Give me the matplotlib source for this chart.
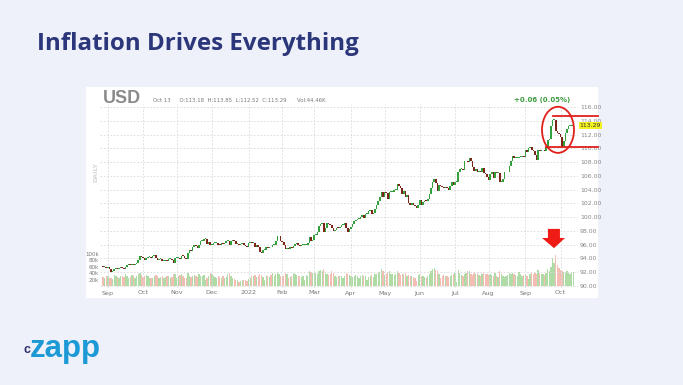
import numpy as np
import matplotlib
matplotlib.use('Agg')
import matplotlib.pyplot as plt
from matplotlib.patches import Ellipse, Polygon, Rectangle

# DXY daily closes (one list per month)
close_aug21 = [92.7, 92.7, 92.6]
close_sep21 = [92.8, 92.4, 92.1, 92.2, 92.5, 92.6, 92.5, 92.6, 92.7, 92.6, 92.5,
               92.8, 93.0, 93.1, 93.0, 93.2, 93.0, 93.2, 93.3, 93.8, 94.3, 94.2]
close_oct21 = [94.0, 93.8, 94.0, 94.2, 94.2, 94.1, 94.3, 94.5, 94.0, 93.8, 93.9,
               93.9, 93.6, 93.6, 93.8, 93.6, 93.9, 93.9, 93.8, 93.4, 94.1]
close_nov21 = [94.1, 94.1, 93.9, 94.4, 94.3, 94.0, 93.9, 94.8, 95.2, 95.1, 95.6,
               96.0, 95.8, 95.5, 96.0, 96.5, 96.5, 96.8, 96.8, 96.1, 96.4, 96.0]
close_dec21 = [96.0, 96.2, 96.2, 96.3, 96.0, 95.9, 96.2, 96.1, 96.3, 96.6, 96.6, 96.0,
               96.6, 96.6, 96.5, 96.1, 96.1, 96.0, 96.1, 96.2, 96.0, 95.8, 95.7]
close_jan22 = [96.2, 96.3, 96.2, 96.3, 95.7, 95.9, 95.6, 95.0, 94.8, 95.2, 95.3,
               95.7, 95.5, 95.7, 95.6, 95.9, 96.0, 96.5, 97.2, 97.3, 96.5]
close_feb22 = [96.4, 96.0, 95.4, 95.5, 95.4, 95.6, 95.5, 95.8, 96.1, 96.3,
               96.0, 95.8, 95.9, 96.0, 96.0, 96.0, 96.2, 97.1, 96.6, 96.7]
close_mar22 = [97.4, 97.4, 97.8, 98.7, 99.0, 99.1, 97.9, 98.5, 99.1, 99.0, 98.8, 98.4,
               98.0, 98.2, 98.5, 98.4, 98.6, 98.8, 98.8, 99.1, 98.4, 97.8, 98.3]
close_apr22 = [98.6, 99.0, 99.5, 99.6, 99.8, 99.8, 100.0, 100.3, 99.9, 100.5, 100.5,
               100.9, 101.0, 100.4, 100.6, 101.2, 101.8, 102.3, 103.0, 103.6, 103.0]
close_may22 = [103.7, 103.5, 102.6, 103.7, 103.7, 103.7, 103.9, 103.9, 104.8, 104.6, 104.2,
               103.4, 103.8, 102.9, 103.2, 102.1, 101.8, 102.1, 101.8, 101.7, 101.4, 101.8]
close_jun22 = [102.5, 101.8, 102.2, 102.4, 102.3, 102.6, 103.3, 104.2, 105.1, 105.5, 105.0,
               103.8, 104.7, 104.5, 104.4, 104.2, 104.4, 104.2, 103.9, 104.5, 105.1, 104.7]
close_jul22 = [105.1, 105.1, 106.5, 107.0, 107.0, 106.9, 108.1, 108.1, 108.0, 108.6, 108.1,
               107.3, 106.7, 107.0, 106.6, 106.7, 106.5, 107.2, 106.4, 106.3, 105.9]
close_aug22 = [105.4, 106.3, 106.5, 105.7, 106.6, 106.4, 106.4, 105.1, 105.1, 105.6, 106.5, 106.5,
               106.6, 107.5, 108.2, 108.9, 108.6, 108.6, 108.6, 108.8, 108.8, 108.8, 108.7]
close_sep22 = [109.7, 109.5, 110.0, 110.2, 109.7, 109.6, 109.0, 108.3, 109.8, 109.6, 109.7,
               109.8, 109.6, 110.2, 111.2, 111.3, 113.2, 114.1, 114.1, 112.6, 112.2, 112.1]
close_oct22 = [111.6, 110.2, 111.1, 112.2, 112.8, 113.2, 113.2, 113.2, 113.29]
first_open = 92.8

# daily volume in thousands
vol_aug21 = [28, 24, 32]
vol_sep21 = [30, 26, 24, 22, 34, 30, 28, 26, 32, 30, 27, 36, 30, 26, 28, 34, 32, 26, 30, 36, 42, 34]
vol_oct21 = [28, 30, 34, 30, 26, 24, 26, 32, 34, 30, 26, 28, 30, 26, 28, 32, 30, 24, 28, 36, 38]
vol_nov21 = [26, 30, 34, 36, 30, 24, 26, 40, 32, 28, 30, 34, 30, 28, 36, 32, 30, 34, 20, 26, 32, 42]
vol_dec21 = [36, 30, 28, 26, 30, 28, 26, 30, 24, 28, 36, 40, 32, 24, 22, 20, 18, 12, 16, 20, 18, 20, 16]
vol_jan22 = [22, 26, 32, 30, 34, 28, 30, 38, 34, 28, 18, 32, 30, 28, 34, 40, 32, 38, 44, 36, 30]
vol_feb22 = [30, 32, 40, 38, 26, 28, 30, 40, 36, 34, 32, 30, 28, 32, 20, 34, 30, 48, 44, 42]
vol_mar22 = [44, 40, 38, 46, 50, 48, 52, 42, 36, 34, 38, 46, 40, 32, 28, 30, 32, 30, 26, 32, 40, 38, 34]
vol_apr22 = [30, 28, 32, 34, 30, 26, 30, 34, 32, 30, 18, 28, 30, 34, 28, 36, 38, 40, 44, 52, 46]
vol_may22 = [34, 36, 44, 46, 38, 36, 34, 36, 48, 40, 34, 38, 36, 42, 30, 34, 32, 30, 28, 24, 16, 34]
vol_jun22 = [36, 32, 30, 28, 26, 30, 38, 46, 52, 56, 50, 48, 36, 24, 30, 34, 32, 30, 28, 32, 34, 36]
vol_jul22 = [40, 14, 50, 40, 34, 30, 38, 42, 46, 48, 36, 34, 40, 36, 42, 34, 32, 38, 40, 38, 36]
vol_aug22 = [34, 38, 34, 32, 40, 30, 28, 46, 36, 30, 28, 32, 34, 40, 38, 42, 36, 34, 32, 44, 36, 32, 34]
vol_sep22 = [36, 32, 22, 38, 40, 36, 42, 38, 50, 40, 36, 38, 34, 42, 54, 48, 60, 87, 72, 97, 66, 56]
vol_oct22 = [50, 48, 44, 42, 46, 40, 38, 42, 44]

month_labels = ['Sep', 'Oct', 'Nov', 'Dec', '2022', 'Feb', 'Mar', 'Apr',
                'May', 'Jun', 'Jul', 'Aug', 'Sep', 'Oct']
price_ticks = [90, 92, 94, 96, 98, 100, 102, 104, 106, 108, 110, 112, 114, 116]
vol_ticks = [20, 40, 60, 80, 100]
vol_tick_labels = ['20k', '40k', '60k', '80k', '100k']
last_price = 113.29
resistance = 114.7
support = 110.2

months_close = [close_aug21, close_sep21, close_oct21, close_nov21, close_dec21, close_jan22,
                close_feb22, close_mar22, close_apr22, close_may22, close_jun22, close_jul22,
                close_aug22, close_sep22, close_oct22]
months_vol = [vol_aug21, vol_sep21, vol_oct21, vol_nov21, vol_dec21, vol_jan22, vol_feb22,
              vol_mar22, vol_apr22, vol_may22, vol_jun22, vol_jul22, vol_aug22, vol_sep22, vol_oct22]

closes = np.concatenate([np.array(m, float) for m in months_close])
opens = np.concatenate([[first_open], closes[:-1]])
volumes = np.concatenate([np.array(m, float) for m in months_vol])
idx = np.arange(len(closes))
month_starts = np.cumsum([len(m) for m in months_close])[:-1]

up = closes >= opens
candle_colors = np.where(up, '#33a03c', '#7d2418')
vol_colors = np.where(up, '#aedba6', '#f4bdb4')

W, H = 683, 385
fig = plt.figure(figsize=(W / 100, H / 100), dpi=100, facecolor='#eef1f9')


def fx(px):
    return px / W


def fy(py):
    return 1 - py / H


# white chart panel
fig.patches.append(Rectangle((fx(86), fy(298)), fx(598) - fx(86), fy(87) - fy(298),
                             transform=fig.transFigure, facecolor='white',
                             edgecolor='none', zorder=-10))

left, right, top, bottom = 100, 578, 104, 288
ax_vol = fig.add_axes([fx(left), fy(bottom), fx(right) - fx(left), fy(top) - fy(bottom)])
ax_vol.set_facecolor('none')
ax_vol.bar(idx, volumes, width=0.85, color=vol_colors, linewidth=0)
ax_vol.set_ylim(-2 / 0.32, (bottom - top - 2) / 0.32)
ax_vol.set_xlim(-1.9, 296.9)
ax_vol.set_yticks(vol_ticks)
ax_vol.set_yticklabels(vol_tick_labels)
ax_vol.tick_params(axis='y', length=0, pad=1, labelsize=4, labelcolor='#777777')
ax_vol.set_xticks(month_starts)
ax_vol.set_xticklabels(month_labels)
ax_vol.tick_params(axis='x', length=0, pad=1.8, labelsize=4.6, labelcolor='#777777')
for s in ax_vol.spines.values():
    s.set_visible(False)

ax = ax_vol.twinx()
ax.set_facecolor('none')
ppu = 6.88
ax.set_ylim(90 - 2 / ppu, 90 + (bottom - top - 2) / ppu)
ax.set_yticks(price_ticks)
ax.set_yticklabels([f'{t:.2f}' for t in price_ticks])
ax.tick_params(axis='y', length=0, pad=1.5, labelsize=4.4, labelcolor='#888888')
for s in ax.spines.values():
    s.set_visible(False)

# grid
for t in price_ticks:
    ax.axhline(t, color='#d9d9d9', lw=0.6, ls=(0, (2, 2)), zorder=0)
for m in month_starts:
    ax.axvline(m, color='#d9d9d9', lw=0.6, ls=(0, (2, 2)), zorder=0)

# candles
body_low = np.minimum(opens, closes)
body_h = np.maximum(np.abs(closes - opens), 0.14)
ax.bar(idx, body_h, bottom=body_low, width=1.0, color=candle_colors, linewidth=0, zorder=3)

# last price tag
ax.text(1.003, last_price, f'{last_price:.2f}', transform=ax.get_yaxis_transform(),
        fontsize=4.4, color='#333333', va='center', ha='left',
        bbox=dict(boxstyle='square,pad=0.15', facecolor='#f4f21e', edgecolor='none'))

# annotations
ax.add_patch(Ellipse((284.4, 112.7), 20, 6.7, fill=False, edgecolor='#e0201b', lw=1.3,
                     clip_on=False, zorder=5))
ax.plot([281.3, 309.4], [resistance, resistance], color='#e0201b', lw=1.3, clip_on=False, zorder=5)
ax.plot([276.9, 309.4], [support, support], color='#e0201b', lw=1.3, clip_on=False, zorder=5)
arrow = [(278.1, 98.3), (285.6, 98.3), (285.6, 96.98), (288.8, 96.98),
         (281.9, 95.5), (274.4, 96.98), (278.1, 96.98)]
ax.add_patch(Polygon(arrow, closed=True, facecolor='#ee1c14', edgecolor='none',
                     clip_on=False, zorder=5))

# header texts
fig.text(fx(103), fy(103), 'USD', fontsize=13, fontweight='bold', color='#8a8a8a',
         family='Liberation Sans', va='baseline')
fig.text(fx(153), fy(102), 'Oct 13     O:113.18  H:113.85  L:112.52  C:113.29      Vol:44.46K',
         fontsize=3.9, color='#7a7a7a', va='baseline')
fig.text(fx(570), fy(102.5), '+0.06 (0.05%)', fontsize=5, fontweight='bold', color='#3d9b3d',
         ha='right', va='baseline')
fig.text(fx(96), fy(172), 'DAILY', fontsize=4.5, fontweight='bold', color='#d6d6d6',
         rotation=90, ha='center', va='center')

# slide texts
fig.text(fx(37), fy(50), 'Inflation Drives Everything', fontsize=17.4, fontweight='bold',
         color='#2b377a', family='Open Sans', va='baseline')
fig.text(fx(23), fy(353), 'c', fontsize=9, fontweight='bold', color='#2b2f6b',
         family='Liberation Sans', va='baseline')
fig.text(fx(30), fy(357), 'zapp', fontsize=22.5, fontweight='bold', color='#1d9ad6',
         family='Liberation Sans', va='baseline')

fig.savefig('out.png', dpi=100, facecolor=fig.get_facecolor())
